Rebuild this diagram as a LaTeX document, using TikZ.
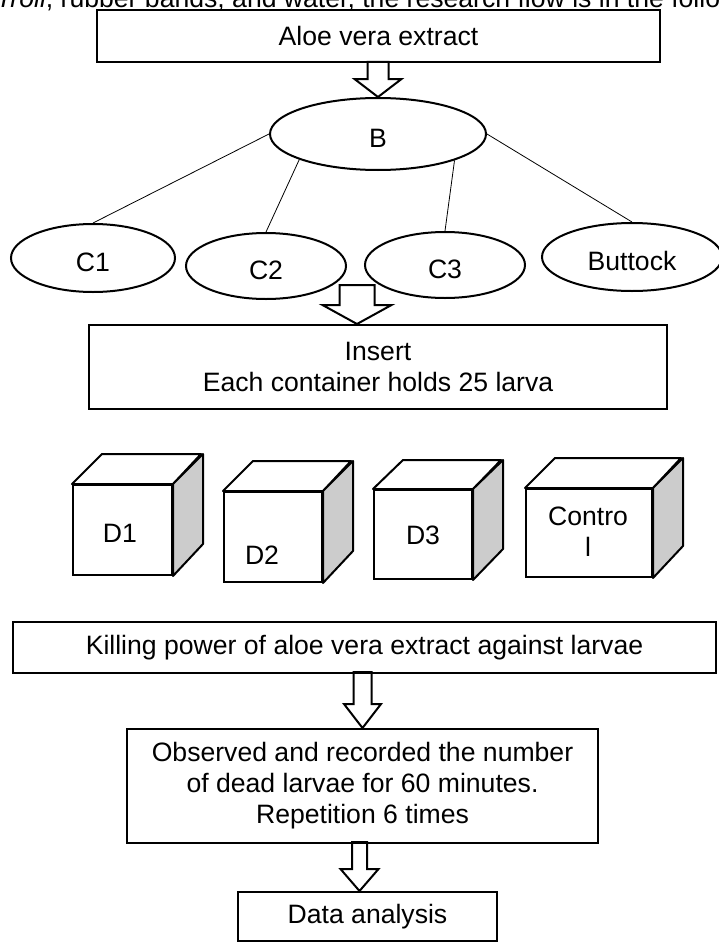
\documentclass[tikz,border=0pt]{standalone}
\usepackage{fontspec}
\setmainfont{Liberation Sans}
\usetikzlibrary{shapes.geometric}

\tikzset{
  flowbox/.style={draw, line width=2pt, align=center, inner sep=0pt},
  oval/.style={draw, ellipse, line width=2pt, inner sep=0pt, text height=27pt, text depth=0pt},
  cubeface/.style={draw, fill=white, line width=2pt, inner sep=0pt},
  cubeline/.style={line width=2pt, line join=round},
  cubelabel/.style={inner sep=0pt, align=center},
  branch/.style={line width=0.8pt},
  hollowarrow/.style={line width=2pt, line join=miter}
}

\begin{document}
\begin{tikzpicture}[x=1pt, y=-1pt, font=\fontsize{26.6pt}{31pt}\selectfont]
      \useasboundingbox (0,0) rectangle (718,942);

      \node[anchor=base west, inner sep=0pt] (intro) at (-4,8) {\textit{Troll}, rubber bands, and water, the research flow is in the following};

      \node[flowbox, minimum width=563pt, minimum height=52pt] (aloe) at (378.5,36) {Aloe vera extract};
      \node[oval, minimum width=216pt, minimum height=72pt] (b) at (378,134) {B};

      \draw[hollowarrow] (b.north) -- ++ (-23.5,-18) -- ++ (13,0) -- ++ (0,-17) -- ++ (21,0) -- ++ (0,17) -- ++ (13,0) -- cycle;

      \node[oval, minimum width=164pt, minimum height=68pt] (c1) at (93,258) {C1};
      \node[oval, minimum width=160pt, minimum height=66pt] (c2) at (266,266) {C2};
      \node[oval, minimum width=160pt, minimum height=66pt] (c3) at (445,265) {C3};
      \node[oval, minimum width=180pt, minimum height=68pt] (buttock) at (632,257) {Buttock};

      \draw[branch] (b.west) -- (c1.north);
      \draw[branch] (b.198) -- (c2.north);
      \draw[branch] (b.341) -- (c3.north);
      \draw[branch] (b.east) -- (buttock.north);

      \node[flowbox, minimum width=578pt, minimum height=84pt] (insert) at (378,367) {Insert\\Each container holds 25 larva};
      \draw[hollowarrow] ([xshift=-21pt]insert.north) -- ++ (-34.5,-19) -- ++ (17,0) -- ++ (0,-20) -- ++ (35,0) -- ++ (0,20) -- ++ (17,0) -- cycle;

      % containers
      \node[cubeface, minimum width=99pt, minimum height=90pt] (d1) at (122.5,530) {};
      \draw[cubeline, fill=white] (d1.north west) -- ++ (30,-30) -- ++ (99,0) -- (d1.north east) -- cycle;
      \draw[cubeline, fill=gray!40] (d1.north east) -- ++ (30,-30) -- ++ (0,90) -- (d1.south east) -- cycle;
      \node[cubelabel] (d1lbl) at (120,533) {D1};

      \node[cubeface, minimum width=98pt, minimum height=90pt] (d2) at (273,537) {};
      \draw[cubeline, fill=white] (d2.north west) -- ++ (30,-30) -- ++ (98,0) -- (d2.north east) -- cycle;
      \draw[cubeline, fill=gray!40] (d2.north east) -- ++ (30,-30) -- ++ (0,90) -- (d2.south east) -- cycle;
      \node[cubelabel] (d2lbl) at (262,555) {D2};

      \node[cubeface, minimum width=98pt, minimum height=89pt] (d3) at (423,534.5) {};
      \draw[cubeline, fill=white] (d3.north west) -- ++ (30,-29) -- ++ (98,0) -- (d3.north east) -- cycle;
      \draw[cubeline, fill=gray!40] (d3.north east) -- ++ (30,-29) -- ++ (0,89) -- (d3.south east) -- cycle;
      \node[cubelabel] (d3lbl) at (423,535) {D3};

      \node[cubeface, minimum width=126pt, minimum height=88pt] (control) at (589,533) {};
      \draw[cubeline, fill=white] (control.north west) -- ++ (30,-30) -- ++ (126,0) -- (control.north east) -- cycle;
      \draw[cubeline, fill=gray!40] (control.north east) -- ++ (30,-30) -- ++ (0,88) -- (control.south east) -- cycle;
      \node[cubelabel] (controllbl) at (588,532) {Contro\\l};

      \node[flowbox, minimum width=703pt, minimum height=51pt] (killing) at (364.5,647.5) {Killing power of aloe vera extract against larvae};
      \node[flowbox, minimum width=471pt, minimum height=114pt] (observed) at (362.5,786) {Observed and recorded the number\\of dead larvae for 60 minutes.\\Repetition 6 times};
      \draw[hollowarrow] (observed.north) -- ++ (-18.5,-24) -- ++ (9.5,0) -- ++ (0,-32) -- ++ (18,0) -- ++ (0,32) -- ++ (9.5,0) -- cycle;

      \node[flowbox, minimum width=259pt, minimum height=49pt] (data) at (367.5,916.5) {Data analysis};
      \draw[hollowarrow] ([xshift=-8pt]data.north) -- ++ (-19,-22) -- ++ (11.5,0) -- ++ (0,-27) -- ++ (15,0) -- ++ (0,27) -- ++ (11.5,0) -- cycle;
    \end{tikzpicture}
\end{document}
